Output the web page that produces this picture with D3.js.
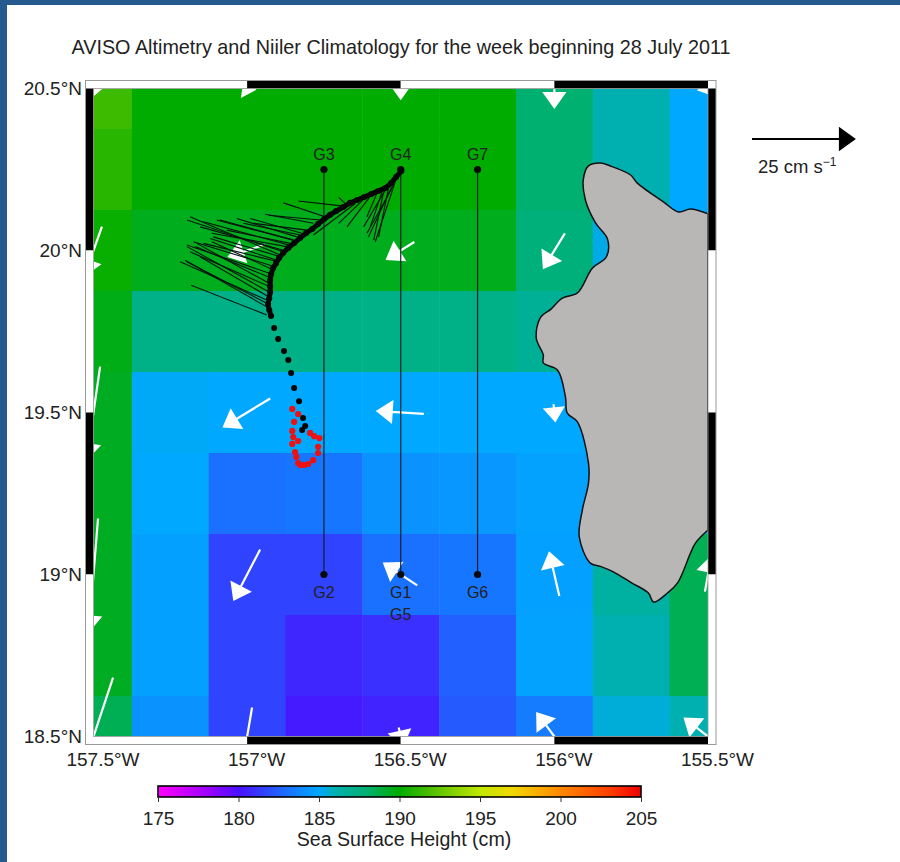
<!DOCTYPE html>
<html>
<head>
<meta charset="utf-8">
<script src="https://cdnjs.cloudflare.com/ajax/libs/d3/7.8.5/d3.min.js"></script>
<style>
  html, body { margin: 0; padding: 0; background: #245a8e; overflow: hidden; }
  svg { display: block; }
  text { font-family: "Liberation Sans", Arial, sans-serif; fill: #222; }
</style>
</head>
<body>
<script>
// sea surface height grid, cm. rows north to south, columns west to east
var gridLons = [-157.5, -157.25, -157, -156.75, -156.5, -156.25, -156, -155.75, -155.5];
var gridLats = [20.5, 20.25, 20, 19.75, 19.5, 19.25, 19, 18.75, 18.5];
var ssh = [
    [191.5, 190, 190, 190, 190, 190, 188, 186, 185],
    [191, 190, 190, 190, 190, 190, 188, 186, 185],
    [190.2, 189.5, 189.5, 189.5, 189.5, 189.5, 187.7, 185.3, 185],
    [189.6, 187.3, 187.3, 187.3, 187.3, 187.3, 186.8, 185.3, 185],
    [189.4, 185.1, 185, 185, 185, 185, 185, 185, 185],
    [189.4, 185, 183, 183.2, 184.2, 184.4, 184.8, 185, 185],
    [189.4, 184.7, 181.6, 181.6, 183, 183.2, 184.7, 186.5, 188.5],
    [189.4, 184.7, 181.6, 180.7, 181, 182.5, 184.8, 186, 188.5],
    [188.5, 184.2, 181.6, 180.3, 180.6, 182.3, 183.4, 185.5, 186]
];

// colour bar
var barTicks = [175, 180, 185, 190, 195, 200, 205];
var barStops = [175, 178, 180, 183, 185, 186, 188, 190, 192, 195, 197, 200, 203, 205];
var barColors = ['#ff00ff', '#a000ff', '#4a10ff', '#1a70ff', '#00a8ff', '#00b0b0', '#00b070', '#00ac00',
    '#50c000', '#c0e800', '#f0d800', '#ff8800', '#ff4000', '#f00000'];

// velocity vectors, cm/s
var vecLon = [-157.5, -157, -156.5, -156, -155.5,
    -157.5, -157, -156.5, -156,
    -157.5, -157, -156.5, -156,
    -157.5, -157, -156.5, -156, -155.5,
    -157.5, -157, -156.5, -156, -155.5];
var vecLat = [20.5, 20.5, 20.5, 20.5, 20.5,
    20, 20, 20, 20,
    19.5, 19.5, 19.5, 19.5,
    19, 19, 19, 19, 19,
    18.5, 18.5, 18.5, 18.5, 18.5];
var vecU = [-1, 3.6, 0, 0, 2,
    -4.1, -8.7, -6.6, -5.1,
    -3.2, -11.2, -11.2, 0.4,
    -2.2, -6.3, -8, -2.4, 1.5,
    -9.5, -2.4, 1, -8.3, -11.2];
var vecV = [-3.9, -0.5, -4.8, -9, -3,
    -11.6, -2.9, -4.1, -8.3,
    -22.3, -6.8, 0.7, -4,
    -27.2, -12.1, 5.3, 10.4, 8.3,
    -28.6, -14.1, -4.4, 11.2, 8.7];

// glider lines
var gliderLon = [-156.75, -156.5, -156.25];
var gliderNorth = 20.25;
var gliderSouth = 19;
var gliderTopLabels = ['G3', 'G4', 'G7'];
var gliderBottomLabels = ['G2', 'G1', 'G6'];

// drifter track
var trackLon = [-156.498, -156.515, -156.531, -156.55, -156.573, -156.596, -156.619, -156.642, -156.665, -156.687,
    -156.71, -156.73, -156.749, -156.769, -156.788, -156.808, -156.827, -156.847, -156.866, -156.883,
    -156.896, -156.906, -156.915, -156.922, -156.925, -156.925, -156.925, -156.928, -156.932, -156.928,
    -156.922, -156.912, -156.899, -156.88, -156.866, -156.857, -156.847, -156.831, -156.818, -156.811, -156.821];
var trackLat = [20.245, 20.227, 20.208, 20.193, 20.184, 20.174, 20.165, 20.156, 20.147, 20.134,
    20.122, 20.11, 20.097, 20.082, 20.066, 20.054, 20.039, 20.023, 20.008, 19.992,
    19.977, 19.961, 19.946, 19.927, 19.909, 19.89, 19.872, 19.853, 19.835, 19.816,
    19.798, 19.761, 19.727, 19.69, 19.662, 19.622, 19.576, 19.535, 19.483, 19.458, 19.446];
var denseCount = 31;
var redLon = [-156.853, -156.834, -156.847, -156.853, -156.85, -156.853, -156.834, -156.844, -156.84, -156.834,
    -156.827, -156.815, -156.801, -156.785, -156.769, -156.769, -156.765, -156.782, -156.795];
var redLat = [19.511, 19.495, 19.471, 19.443, 19.424, 19.403, 19.412, 19.378, 19.363, 19.344,
    19.338, 19.338, 19.341, 19.353, 19.375, 19.394, 19.421, 19.427, 19.437];

// feather sticks off the track
var stickLon0 = [-156.518, -156.529, -156.54, -156.55, -156.561, -156.578, -156.599, -156.621, -156.648, -156.675,
    -156.686, -156.746, -156.784, -156.822, -156.838, -156.849, -156.865, -156.882, -156.892, -156.903,
    -156.909, -156.925, -156.927, -156.93, -156.936, -156.936, -156.936,
    -156.523, -156.556, -156.849, -156.86, -156.871, -156.882, -156.892, -156.898, -156.914, -156.92,
    -156.925, -156.93, -156.936, -156.806, -156.762, -156.827];
var stickLat0 = [20.212, 20.197, 20.192, 20.187, 20.181, 20.176, 20.168, 20.158, 20.145, 20.14,
    20.137, 20.104, 20.084, 20.053, 20.042, 20.032, 20.017, 19.996, 19.986, 19.97,
    19.95, 19.929, 19.898, 19.873, 19.847, 19.826, 19.801,
    20.202, 20.181, 20.032, 20.022, 20.012, 20.001, 19.981, 19.965, 19.94, 19.914,
    19.888, 19.857, 19.837, 20.063, 20.094, 20.048];
var stickLon1 = [-156.583, -156.605, -156.572, -156.621, -156.599, -156.61, -156.675, -156.702, -156.784, -156.702,
    -156.833, -156.882, -156.941, -156.99, -157.034, -157.099, -157.142, -157.196, -157.186, -157.12,
    -157.175, -157.196, -157.164, -157.196, -157.218, -157.202, -157.182,
    -156.61, -156.588, -157.088, -157.066, -157.115, -157.153, -157.11, -157.142, -157.115, -157.169,
    -157.186, -157.153, -157.196, -156.979, -156.93, -157.012];
var stickLat1 = [20.027, 20.042, 20.042, 20.073, 20.073, 20.104, 20.073, 20.084, 20.048, 20.164,
    20.153, 20.147, 20.112, 20.099, 20.099, 20.094, 20.089, 20.094, 20.104, 20.037,
    20.027, 20.017, 20.022, 20.012, 19.965, 19.97, 19.893,
    20.053, 20.032, 20.094, 20.063, 20.053, 20.073, 20.042, 20.022, 20.027, 20.012,
    19.996, 19.981, 19.965, 20.084, 20.109, 20.084];

// coastline of the island
var coastLon = [-155.5, -155.557, -155.596, -155.645, -155.73, -155.752, -155.818, -155.85, -155.889, -155.906,
    -155.899, -155.866, -155.827, -155.831, -155.876, -155.925, -155.974, -156.01, -156.046, -156.059, -156.036,
    -156.036, -155.99, -155.964, -155.958, -155.925, -155.889, -155.889, -155.909, -155.919, -155.883, -155.85,
    -155.808, -155.75, -155.694, -155.677, -155.632, -155.599, -155.557, -155.541, -155.5];
var coastLat = [20.113, 20.128, 20.119, 20.15, 20.208, 20.233, 20.261, 20.27, 20.261, 20.218,
    20.156, 20.085, 20.035, 19.98, 19.946, 19.869, 19.853, 19.82, 19.792, 19.73, 19.677,
    19.653, 19.631, 19.548, 19.498, 19.471, 19.344, 19.282, 19.199, 19.116, 19.035, 19.025,
    19.008, 18.975, 18.943, 18.915, 18.943, 18.974, 19.066, 19.097, 19.137];

var lonTicks = [-157.5, -157, -156.5, -156, -155.5];
var latTicks = [20.5, 20, 19.5, 19, 18.5];

var width = 900,
    height = 862;

var svg = d3.select('body')
    .append('svg')
    .attr('width', width)
    .attr('height', height);

svg.append('rect')
    .attr('x', 7)
    .attr('y', 5)
    .attr('width', width - 7)
    .attr('height', height - 5)
    .attr('fill', '#ffffff');

svg.append('text')
    .attr('x', 401)
    .attr('y', 54)
    .attr('text-anchor', 'middle')
    .attr('font-size', 19.8)
    .text('AVISO Altimetry and Niiler Climatology for the week beginning 28 July 2011');

var x = d3.scaleLinear().domain([-157.5, -155.5]).range([93.5, 708]);
var y = d3.scaleLinear().domain([20.5, 18.5]).range([88.5, 736.5]);

var color = d3.scaleLinear().domain(barStops).range(barColors).clamp(true);
var arrowLen = d3.scaleLinear().domain([0, 25]).range([0, 103]);

svg.append('defs')
    .append('clipPath')
    .attr('id', 'map-clip')
    .append('rect')
    .attr('x', x(-157.5))
    .attr('y', y(20.5))
    .attr('width', x(-155.5) - x(-157.5))
    .attr('height', y(18.5) - y(20.5));

var map = svg.append('g').attr('clip-path', 'url(#map-clip)');

// sea surface height cells
gridLats.forEach(function(lat, r) {
    map.append('g').selectAll('rect')
        .data(gridLons)
        .enter().append('rect')
        .attr('x', function(d) { return x(d - 0.125); })
        .attr('y', y(lat + 0.125))
        .attr('width', x(0.25) - x(0) + 0.5)
        .attr('height', y(lat - 0.125) - y(lat + 0.125) + 0.5)
        .attr('fill', function(d, i) { return color(ssh[r][i]); });
});

// island
var coast = d3.line()
    .x(function(d) { return x(d[0]); })
    .y(function(d) { return y(d[1]); })
    .curve(d3.curveCatmullRom.alpha(0.5));

map.append('path')
    .datum(d3.zip(coastLon, coastLat))
    .attr('d', function(d) { return coast(d) + 'Z'; })
    .attr('fill', '#b9b6b6')
    .attr('stroke', '#111')
    .attr('stroke-width', 1.5);

// arrow from (x0, y0) to (x1, y1)
function arrowPath(x0, y0, x1, y1) {
    var len = Math.sqrt((x1 - x0) * (x1 - x0) + (y1 - y0) * (y1 - y0));
    var ux = (x1 - x0) / len, uy = (y1 - y0) / len;
    var headLen = Math.min(14, len * 0.75), headW = 9 * headLen / 14 + 1;
    var bx = x1 - ux * headLen, by = y1 - uy * headLen;
    return 'M' + x0 + ',' + y0 + 'L' + bx + ',' + by +
        'M' + (bx - uy * headW) + ',' + (by + ux * headW) +
        'L' + x1 + ',' + y1 +
        'L' + (bx + uy * headW) + ',' + (by - ux * headW) + 'Z';
}

map.append('g').selectAll('path')
    .data(vecLon)
    .enter().append('path')
    .attr('d', function(d, i) {
        var sign = vecU[i] < 0 ? -1 : 1;
        var dx = arrowLen(Math.abs(vecU[i])) * sign;
        var dy = vecV[i] < 0 ? arrowLen(-vecV[i]) : -arrowLen(vecV[i]);
        var cx = x(d), cy = y(vecLat[i]);
        return arrowPath(cx - dx / 2, cy - dy / 2, cx + dx / 2, cy + dy / 2);
    })
    .attr('fill', '#ffffff')
    .attr('stroke', '#ffffff')
    .attr('stroke-width', 2.2);

// glider lines
map.append('g').selectAll('line')
    .data(gliderLon)
    .enter().append('line')
    .attr('x1', function(d) { return x(d); })
    .attr('x2', function(d) { return x(d); })
    .attr('y1', y(gliderNorth))
    .attr('y2', y(gliderSouth))
    .attr('stroke', '#102028')
    .attr('stroke-width', 1.2);

[gliderNorth, gliderSouth].forEach(function(lat) {
    map.append('g').selectAll('circle')
        .data(gliderLon)
        .enter().append('circle')
        .attr('cx', function(d) { return x(d); })
        .attr('cy', y(lat))
        .attr('r', 3.6)
        .attr('fill', '#0a0a0a');
});

var gliderText = map.append('g')
    .attr('font-size', 16)
    .attr('text-anchor', 'middle');

gliderText.selectAll('text.top')
    .data(gliderLon)
    .enter().append('text')
    .attr('class', 'top')
    .attr('x', function(d) { return x(d); })
    .attr('y', y(gliderNorth) - 10)
    .text(function(d, i) { return gliderTopLabels[i]; });

gliderText.selectAll('text.bottom')
    .data(gliderLon)
    .enter().append('text')
    .attr('class', 'bottom')
    .attr('x', function(d) { return x(d); })
    .attr('y', y(gliderSouth) + 23)
    .text(function(d, i) { return gliderBottomLabels[i]; });

gliderText.append('text')
    .attr('x', x(-156.5))
    .attr('y', y(gliderSouth) + 45)
    .text('G5');

// feather sticks
map.append('g').selectAll('line')
    .data(stickLon0)
    .enter().append('line')
    .attr('x1', function(d) { return x(d); })
    .attr('y1', function(d, i) { return y(stickLat0[i]); })
    .attr('x2', function(d, i) { return x(stickLon1[i]); })
    .attr('y2', function(d, i) { return y(stickLat1[i]); })
    .attr('stroke', '#06140e')
    .attr('stroke-width', 1.1);

// track dots
map.append('g').selectAll('circle')
    .data(redLon)
    .enter().append('circle')
    .attr('cx', function(d) { return x(d); })
    .attr('cy', function(d, i) { return y(redLat[i]); })
    .attr('r', 3.1)
    .attr('fill', '#ee1111');

var trackLine = d3.line()
    .x(function(d) { return x(d[0]); })
    .y(function(d) { return y(d[1]); });

map.append('path')
    .datum(d3.zip(trackLon, trackLat).slice(0, denseCount))
    .attr('d', trackLine)
    .attr('fill', 'none')
    .attr('stroke', '#050505')
    .attr('stroke-width', 5);

map.append('g').selectAll('circle')
    .data(trackLon)
    .enter().append('circle')
    .attr('cx', function(d) { return x(d); })
    .attr('cy', function(d, i) { return y(trackLat[i]); })
    .attr('r', 3)
    .attr('fill', '#050505');

// checkered frame, alternating black and white each half degree
var frameW = 8;
var frame = svg.append('g');

d3.pairs(lonTicks).forEach(function(p, i) {
    [y(20.5) - frameW, y(18.5)].forEach(function(top) {
        frame.append('rect')
            .attr('x', x(p[0]))
            .attr('y', top)
            .attr('width', x(p[1]) - x(p[0]))
            .attr('height', frameW)
            .attr('fill', i % 2 ? '#000000' : '#ffffff');
    });
});

d3.pairs(latTicks).forEach(function(p, i) {
    [x(-157.5) - frameW, x(-155.5)].forEach(function(left) {
        frame.append('rect')
            .attr('x', left)
            .attr('y', y(p[0]))
            .attr('width', frameW)
            .attr('height', y(p[1]) - y(p[0]))
            .attr('fill', i % 2 ? '#ffffff' : '#000000');
    });
});

frame.append('rect')
    .attr('x', x(-157.5) - frameW)
    .attr('y', y(20.5) - frameW)
    .attr('width', x(-155.5) - x(-157.5) + 2 * frameW)
    .attr('height', y(18.5) - y(20.5) + 2 * frameW)
    .attr('fill', 'none')
    .attr('stroke', '#999')
    .attr('stroke-width', 1);

frame.append('rect')
    .attr('x', x(-157.5))
    .attr('y', y(20.5))
    .attr('width', x(-155.5) - x(-157.5))
    .attr('height', y(18.5) - y(20.5))
    .attr('fill', 'none')
    .attr('stroke', '#999')
    .attr('stroke-width', 0.8);

// axes
var lonAxis = d3.axisBottom(x)
    .tickValues(lonTicks)
    .tickSize(0)
    .tickPadding(0)
    .tickFormat(function(d) { return Math.abs(d) + '°W'; });

var latAxis = d3.axisLeft(y)
    .tickValues(latTicks)
    .tickSize(0)
    .tickPadding(0)
    .tickFormat(function(d) { return d + '°N'; });

var lonG = svg.append('g')
    .attr('transform', 'translate(0,752)')
    .call(lonAxis);
lonG.select('.domain').remove();
lonG.selectAll('text')
    .attr('dx', 9)
    .attr('font-size', 19)
    .attr('font-family', '"Liberation Sans", Arial, sans-serif');

var latG = svg.append('g')
    .attr('transform', 'translate(82,0)')
    .call(latAxis);
latG.select('.domain').remove();
latG.selectAll('text')
    .attr('font-size', 19)
    .attr('font-family', '"Liberation Sans", Arial, sans-serif');

// reference arrow
svg.append('path')
    .attr('d', arrowPath(752, 139, 751 + arrowLen(25), 139))
    .attr('fill', '#000')
    .attr('stroke', '#000')
    .attr('stroke-width', 2.2);

var refLabel = svg.append('text')
    .attr('x', 758)
    .attr('y', 173)
    .attr('font-size', 18.5)
    .text('25 cm s');
refLabel.append('tspan')
    .attr('dy', -7)
    .attr('font-size', 12)
    .text('−1');

// colour bar
var bar = d3.scaleLinear().domain([175, 205]).range([158, 641]);

var gradient = svg.select('defs').append('linearGradient')
    .attr('id', 'ssh-bar');

gradient.selectAll('stop')
    .data(barStops)
    .enter().append('stop')
    .attr('offset', function(d) { return (d - 175) / 30; })
    .attr('stop-color', function(d) { return color(d); });

svg.append('rect')
    .attr('x', bar(175))
    .attr('y', 786)
    .attr('width', bar(205) - bar(175))
    .attr('height', 11)
    .attr('fill', 'url(#ssh-bar)')
    .attr('stroke', '#000')
    .attr('stroke-width', 1.6);

var barAxis = d3.axisBottom(bar)
    .tickValues(barTicks)
    .tickSize(5)
    .tickPadding(10)
    .tickFormat(d3.format('d'));

var barG = svg.append('g')
    .attr('transform', 'translate(0,797)')
    .call(barAxis);
barG.select('.domain').remove();
barG.selectAll('line').attr('stroke', '#333');
barG.selectAll('text')
    .attr('font-size', 19)
    .attr('font-family', '"Liberation Sans", Arial, sans-serif');

svg.append('text')
    .attr('x', 404)
    .attr('y', 846)
    .attr('text-anchor', 'middle')
    .attr('font-size', 19.6)
    .text('Sea Surface Height (cm)');
</script>
</body>
</html>
